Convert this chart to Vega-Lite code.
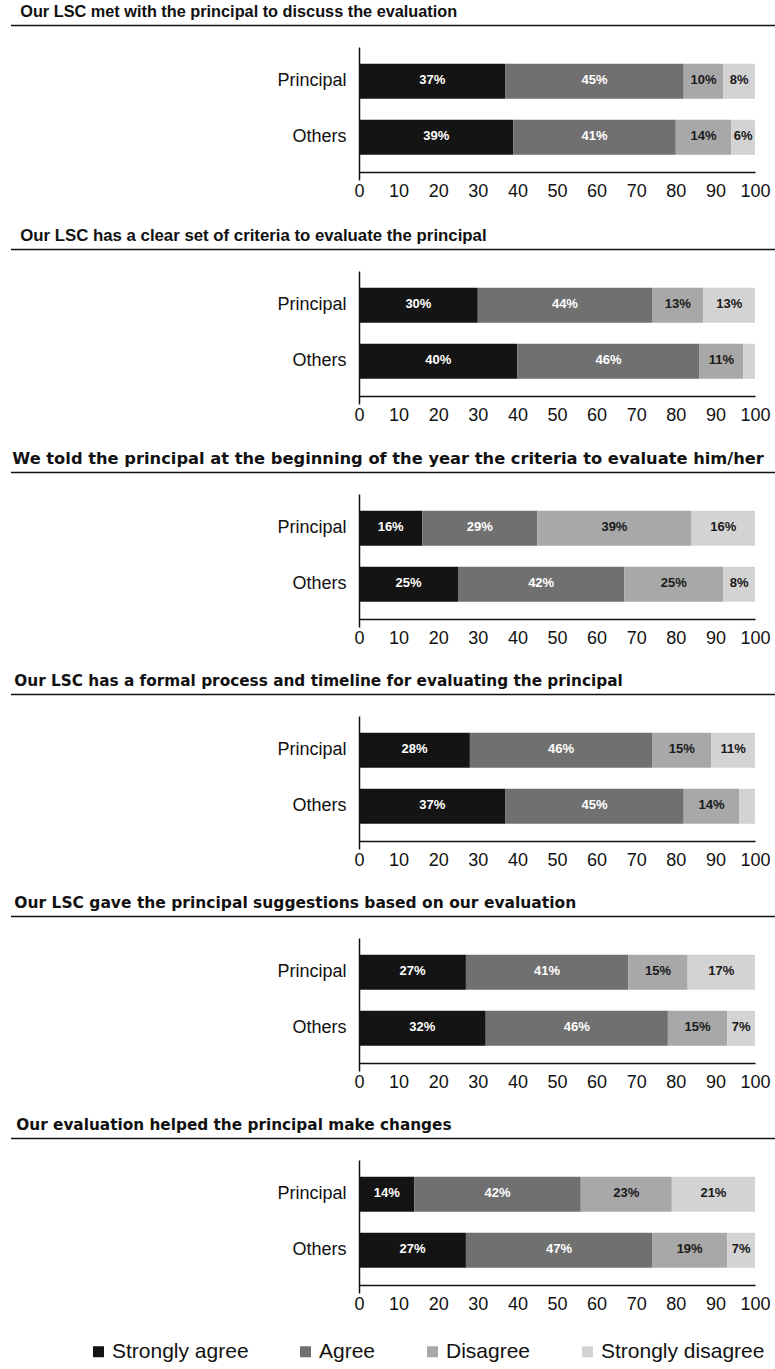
{
  "$schema": "https://vega.github.io/schema/vega-lite/v6.json",
  "background": "white",
  "padding": {"left": 10, "top": 4, "right": 0, "bottom": 0},
  "config": {
    "view": {"stroke": null},
    "font": "Liberation Sans",
    "axisY": {"title": null, "ticks": false, "domainColor": "#111", "domainWidth": 1.5, "labelFontSize": 18, "labelColor": "#111", "labelPadding": 13, "minExtent": 348, "maxExtent": 348, "labelFont": "Liberation Sans"},
    "axisX": {"title": null, "ticks": false, "grid": false, "domainColor": "#111", "domainWidth": 1.5, "labelFontSize": 18, "labelColor": "#111", "labelPadding": 10, "labelFont": "Liberation Sans", "labelFlush": false, "labelOverlap": false, "offset": -8}
  },
  "datasets": {
    "survey": [
      {"q": 1, "group": "Principal", "response": "Strongly agree", "code": 1, "value": 0.37},
      {"q": 1, "group": "Principal", "response": "Agree", "code": 2, "value": 0.45},
      {"q": 1, "group": "Principal", "response": "Disagree", "code": 3, "value": 0.10},
      {"q": 1, "group": "Principal", "response": "Strongly disagree", "code": 4, "value": 0.08},
      {"q": 1, "group": "Others", "response": "Strongly agree", "code": 1, "value": 0.39},
      {"q": 1, "group": "Others", "response": "Agree", "code": 2, "value": 0.41},
      {"q": 1, "group": "Others", "response": "Disagree", "code": 3, "value": 0.14},
      {"q": 1, "group": "Others", "response": "Strongly disagree", "code": 4, "value": 0.06},
      {"q": 2, "group": "Principal", "response": "Strongly agree", "code": 1, "value": 0.30},
      {"q": 2, "group": "Principal", "response": "Agree", "code": 2, "value": 0.44},
      {"q": 2, "group": "Principal", "response": "Disagree", "code": 3, "value": 0.13},
      {"q": 2, "group": "Principal", "response": "Strongly disagree", "code": 4, "value": 0.13},
      {"q": 2, "group": "Others", "response": "Strongly agree", "code": 1, "value": 0.40},
      {"q": 2, "group": "Others", "response": "Agree", "code": 2, "value": 0.46},
      {"q": 2, "group": "Others", "response": "Disagree", "code": 3, "value": 0.11},
      {"q": 2, "group": "Others", "response": "Strongly disagree", "code": 4, "value": 0.03},
      {"q": 3, "group": "Principal", "response": "Strongly agree", "code": 1, "value": 0.16},
      {"q": 3, "group": "Principal", "response": "Agree", "code": 2, "value": 0.29},
      {"q": 3, "group": "Principal", "response": "Disagree", "code": 3, "value": 0.39},
      {"q": 3, "group": "Principal", "response": "Strongly disagree", "code": 4, "value": 0.16},
      {"q": 3, "group": "Others", "response": "Strongly agree", "code": 1, "value": 0.25},
      {"q": 3, "group": "Others", "response": "Agree", "code": 2, "value": 0.42},
      {"q": 3, "group": "Others", "response": "Disagree", "code": 3, "value": 0.25},
      {"q": 3, "group": "Others", "response": "Strongly disagree", "code": 4, "value": 0.08},
      {"q": 4, "group": "Principal", "response": "Strongly agree", "code": 1, "value": 0.28},
      {"q": 4, "group": "Principal", "response": "Agree", "code": 2, "value": 0.46},
      {"q": 4, "group": "Principal", "response": "Disagree", "code": 3, "value": 0.15},
      {"q": 4, "group": "Principal", "response": "Strongly disagree", "code": 4, "value": 0.11},
      {"q": 4, "group": "Others", "response": "Strongly agree", "code": 1, "value": 0.37},
      {"q": 4, "group": "Others", "response": "Agree", "code": 2, "value": 0.45},
      {"q": 4, "group": "Others", "response": "Disagree", "code": 3, "value": 0.14},
      {"q": 4, "group": "Others", "response": "Strongly disagree", "code": 4, "value": 0.04},
      {"q": 5, "group": "Principal", "response": "Strongly agree", "code": 1, "value": 0.27},
      {"q": 5, "group": "Principal", "response": "Agree", "code": 2, "value": 0.41},
      {"q": 5, "group": "Principal", "response": "Disagree", "code": 3, "value": 0.15},
      {"q": 5, "group": "Principal", "response": "Strongly disagree", "code": 4, "value": 0.17},
      {"q": 5, "group": "Others", "response": "Strongly agree", "code": 1, "value": 0.32},
      {"q": 5, "group": "Others", "response": "Agree", "code": 2, "value": 0.46},
      {"q": 5, "group": "Others", "response": "Disagree", "code": 3, "value": 0.15},
      {"q": 5, "group": "Others", "response": "Strongly disagree", "code": 4, "value": 0.07},
      {"q": 6, "group": "Principal", "response": "Strongly agree", "code": 1, "value": 0.14},
      {"q": 6, "group": "Principal", "response": "Agree", "code": 2, "value": 0.42},
      {"q": 6, "group": "Principal", "response": "Disagree", "code": 3, "value": 0.23},
      {"q": 6, "group": "Principal", "response": "Strongly disagree", "code": 4, "value": 0.21},
      {"q": 6, "group": "Others", "response": "Strongly agree", "code": 1, "value": 0.27},
      {"q": 6, "group": "Others", "response": "Agree", "code": 2, "value": 0.47},
      {"q": 6, "group": "Others", "response": "Disagree", "code": 3, "value": 0.19},
      {"q": 6, "group": "Others", "response": "Strongly disagree", "code": 4, "value": 0.07}
    ]
  },
  "spacing": 27,
  "vconcat": [
    {
      "spacing": 20,
      "vconcat": [
        {
          "width": 396, "height": 1,
          "title": {"text": "Our LSC met with the principal to discuss the evaluation", "anchor": "start", "font": "Liberation Sans", "fontSize": 16.3, "fontWeight": "bold", "color": "#111", "offset": 4, "dx": 10},
          "data": {"name": "survey"},
          "transform": [{"filter": "datum.q === 1"}, {"aggregate": [{"op": "count", "as": "n"}]}],
          "mark": {"type": "rule", "color": "#111", "strokeWidth": 1.5},
          "encoding": {"x": {"datum": 0, "type": "quantitative", "scale": {"domain": [0, 1], "range": [-348, 417]}, "axis": null}, "x2": {"datum": 1}}
        },
        {
          "width": 396, "height": 133,
          "data": {"name": "survey"},
          "transform": [{"filter": "datum.q === 1"}],
          "encoding": {
            "y": {"field": "group", "type": "nominal", "sort": ["Principal", "Others"], "scale": {"paddingInner": 0.375, "paddingOuter": 0.375, "align": 0.4}},
            "x": {"field": "value", "type": "quantitative", "stack": "zero", "scale": {"domain": [0, 1], "nice": false}, "axis": {"values": [0, 0.1, 0.2, 0.3, 0.4, 0.5, 0.6, 0.7, 0.8, 0.9, 1], "labelExpr": "format(datum.value * 100, 'd')"}},
            "order": {"field": "code", "type": "quantitative"}
          },
          "layer": [
            {"mark": {"type": "bar"}, "encoding": {"color": {"field": "response", "type": "nominal", "scale": {"domain": ["Strongly agree", "Agree", "Disagree", "Strongly disagree"], "range": ["#141414", "#707070", "#a8a8a8", "#d3d3d3"]}, "legend": {"orient": "none", "legendX": -271, "legendY": 1316, "direction": "horizontal", "title": null, "symbolType": "square", "symbolSize": 121, "symbolStrokeWidth": 0, "labelFontSize": 21, "labelFont": "Liberation Sans", "labelColor": "#111", "labelLimit": 300, "columnPadding": 46, "labelOffset": 3, "padding": 0}}}},
            {"mark": {"type": "text", "font": "Liberation Sans", "fontWeight": "bold", "fontSize": 13, "baseline": "middle", "dy": -1},
             "encoding": {"x": {"field": "value", "type": "quantitative", "stack": "zero", "bandPosition": 0.5}, "detail": {"field": "response"}, "text": {"field": "value", "type": "quantitative", "format": ".0%", "condition": {"test": "datum.value < 0.05", "value": ""}}, "color": {"condition": {"test": "datum.code <= 2", "value": "white"}, "value": "#1a1a1a"}}}
          ]
        }
      ]
    },
    {
      "spacing": 20,
      "vconcat": [
        {
          "width": 396, "height": 1,
          "title": {"text": "Our LSC has a clear set of criteria to evaluate the principal", "anchor": "start", "font": "Liberation Sans", "fontSize": 16.8, "fontWeight": "bold", "color": "#111", "offset": 4, "dx": 10},
          "data": {"name": "survey"},
          "transform": [{"filter": "datum.q === 2"}, {"aggregate": [{"op": "count", "as": "n"}]}],
          "mark": {"type": "rule", "color": "#111", "strokeWidth": 1.5},
          "encoding": {"x": {"datum": 0, "type": "quantitative", "scale": {"domain": [0, 1], "range": [-348, 417]}, "axis": null}, "x2": {"datum": 1}}
        },
        {
          "width": 396, "height": 133,
          "data": {"name": "survey"},
          "transform": [{"filter": "datum.q === 2"}],
          "encoding": {
            "y": {"field": "group", "type": "nominal", "sort": ["Principal", "Others"], "scale": {"paddingInner": 0.375, "paddingOuter": 0.375, "align": 0.4}},
            "x": {"field": "value", "type": "quantitative", "stack": "zero", "scale": {"domain": [0, 1], "nice": false}, "axis": {"values": [0, 0.1, 0.2, 0.3, 0.4, 0.5, 0.6, 0.7, 0.8, 0.9, 1], "labelExpr": "format(datum.value * 100, 'd')"}},
            "order": {"field": "code", "type": "quantitative"}
          },
          "layer": [
            {"mark": {"type": "bar"}, "encoding": {"color": {"field": "response", "type": "nominal", "scale": {"domain": ["Strongly agree", "Agree", "Disagree", "Strongly disagree"], "range": ["#141414", "#707070", "#a8a8a8", "#d3d3d3"]}, "legend": {"orient": "none", "legendX": -271, "legendY": 1316, "direction": "horizontal", "title": null, "symbolType": "square", "symbolSize": 121, "symbolStrokeWidth": 0, "labelFontSize": 21, "labelFont": "Liberation Sans", "labelColor": "#111", "labelLimit": 300, "columnPadding": 46, "labelOffset": 3, "padding": 0}}}},
            {"mark": {"type": "text", "font": "Liberation Sans", "fontWeight": "bold", "fontSize": 13, "baseline": "middle", "dy": -1},
             "encoding": {"x": {"field": "value", "type": "quantitative", "stack": "zero", "bandPosition": 0.5}, "detail": {"field": "response"}, "text": {"field": "value", "type": "quantitative", "format": ".0%", "condition": {"test": "datum.value < 0.05", "value": ""}}, "color": {"condition": {"test": "datum.code <= 2", "value": "white"}, "value": "#1a1a1a"}}}
          ]
        }
      ]
    },
    {
      "spacing": 20,
      "vconcat": [
        {
          "width": 396, "height": 1,
          "title": {"text": "We told the principal at the beginning of the year the criteria to evaluate him/her", "anchor": "start", "font": "DejaVu Sans", "fontSize": 16.3, "fontWeight": "bold", "color": "#111", "offset": 4, "dx": 2},
          "data": {"name": "survey"},
          "transform": [{"filter": "datum.q === 3"}, {"aggregate": [{"op": "count", "as": "n"}]}],
          "mark": {"type": "rule", "color": "#111", "strokeWidth": 1.5},
          "encoding": {"x": {"datum": 0, "type": "quantitative", "scale": {"domain": [0, 1], "range": [-348, 417]}, "axis": null}, "x2": {"datum": 1}}
        },
        {
          "width": 396, "height": 133,
          "data": {"name": "survey"},
          "transform": [{"filter": "datum.q === 3"}],
          "encoding": {
            "y": {"field": "group", "type": "nominal", "sort": ["Principal", "Others"], "scale": {"paddingInner": 0.375, "paddingOuter": 0.375, "align": 0.4}},
            "x": {"field": "value", "type": "quantitative", "stack": "zero", "scale": {"domain": [0, 1], "nice": false}, "axis": {"values": [0, 0.1, 0.2, 0.3, 0.4, 0.5, 0.6, 0.7, 0.8, 0.9, 1], "labelExpr": "format(datum.value * 100, 'd')"}},
            "order": {"field": "code", "type": "quantitative"}
          },
          "layer": [
            {"mark": {"type": "bar"}, "encoding": {"color": {"field": "response", "type": "nominal", "scale": {"domain": ["Strongly agree", "Agree", "Disagree", "Strongly disagree"], "range": ["#141414", "#707070", "#a8a8a8", "#d3d3d3"]}, "legend": {"orient": "none", "legendX": -271, "legendY": 1316, "direction": "horizontal", "title": null, "symbolType": "square", "symbolSize": 121, "symbolStrokeWidth": 0, "labelFontSize": 21, "labelFont": "Liberation Sans", "labelColor": "#111", "labelLimit": 300, "columnPadding": 46, "labelOffset": 3, "padding": 0}}}},
            {"mark": {"type": "text", "font": "Liberation Sans", "fontWeight": "bold", "fontSize": 13, "baseline": "middle", "dy": -1},
             "encoding": {"x": {"field": "value", "type": "quantitative", "stack": "zero", "bandPosition": 0.5}, "detail": {"field": "response"}, "text": {"field": "value", "type": "quantitative", "format": ".0%", "condition": {"test": "datum.value < 0.05", "value": ""}}, "color": {"condition": {"test": "datum.code <= 2", "value": "white"}, "value": "#1a1a1a"}}}
          ]
        }
      ]
    },
    {
      "spacing": 20,
      "vconcat": [
        {
          "width": 396, "height": 1,
          "title": {"text": "Our LSC has a formal process and timeline for evaluating the principal", "anchor": "start", "font": "DejaVu Sans", "fontSize": 15.3, "fontWeight": "bold", "color": "#111", "offset": 4, "dx": 4},
          "data": {"name": "survey"},
          "transform": [{"filter": "datum.q === 4"}, {"aggregate": [{"op": "count", "as": "n"}]}],
          "mark": {"type": "rule", "color": "#111", "strokeWidth": 1.5},
          "encoding": {"x": {"datum": 0, "type": "quantitative", "scale": {"domain": [0, 1], "range": [-348, 417]}, "axis": null}, "x2": {"datum": 1}}
        },
        {
          "width": 396, "height": 133,
          "data": {"name": "survey"},
          "transform": [{"filter": "datum.q === 4"}],
          "encoding": {
            "y": {"field": "group", "type": "nominal", "sort": ["Principal", "Others"], "scale": {"paddingInner": 0.375, "paddingOuter": 0.375, "align": 0.4}},
            "x": {"field": "value", "type": "quantitative", "stack": "zero", "scale": {"domain": [0, 1], "nice": false}, "axis": {"values": [0, 0.1, 0.2, 0.3, 0.4, 0.5, 0.6, 0.7, 0.8, 0.9, 1], "labelExpr": "format(datum.value * 100, 'd')"}},
            "order": {"field": "code", "type": "quantitative"}
          },
          "layer": [
            {"mark": {"type": "bar"}, "encoding": {"color": {"field": "response", "type": "nominal", "scale": {"domain": ["Strongly agree", "Agree", "Disagree", "Strongly disagree"], "range": ["#141414", "#707070", "#a8a8a8", "#d3d3d3"]}, "legend": {"orient": "none", "legendX": -271, "legendY": 1316, "direction": "horizontal", "title": null, "symbolType": "square", "symbolSize": 121, "symbolStrokeWidth": 0, "labelFontSize": 21, "labelFont": "Liberation Sans", "labelColor": "#111", "labelLimit": 300, "columnPadding": 46, "labelOffset": 3, "padding": 0}}}},
            {"mark": {"type": "text", "font": "Liberation Sans", "fontWeight": "bold", "fontSize": 13, "baseline": "middle", "dy": -1},
             "encoding": {"x": {"field": "value", "type": "quantitative", "stack": "zero", "bandPosition": 0.5}, "detail": {"field": "response"}, "text": {"field": "value", "type": "quantitative", "format": ".0%", "condition": {"test": "datum.value < 0.05", "value": ""}}, "color": {"condition": {"test": "datum.code <= 2", "value": "white"}, "value": "#1a1a1a"}}}
          ]
        }
      ]
    },
    {
      "spacing": 20,
      "vconcat": [
        {
          "width": 396, "height": 1,
          "title": {"text": "Our LSC gave the principal suggestions based on our evaluation", "anchor": "start", "font": "DejaVu Sans", "fontSize": 15.5, "fontWeight": "bold", "color": "#111", "offset": 4, "dx": 4},
          "data": {"name": "survey"},
          "transform": [{"filter": "datum.q === 5"}, {"aggregate": [{"op": "count", "as": "n"}]}],
          "mark": {"type": "rule", "color": "#111", "strokeWidth": 1.5},
          "encoding": {"x": {"datum": 0, "type": "quantitative", "scale": {"domain": [0, 1], "range": [-348, 417]}, "axis": null}, "x2": {"datum": 1}}
        },
        {
          "width": 396, "height": 133,
          "data": {"name": "survey"},
          "transform": [{"filter": "datum.q === 5"}],
          "encoding": {
            "y": {"field": "group", "type": "nominal", "sort": ["Principal", "Others"], "scale": {"paddingInner": 0.375, "paddingOuter": 0.375, "align": 0.4}},
            "x": {"field": "value", "type": "quantitative", "stack": "zero", "scale": {"domain": [0, 1], "nice": false}, "axis": {"values": [0, 0.1, 0.2, 0.3, 0.4, 0.5, 0.6, 0.7, 0.8, 0.9, 1], "labelExpr": "format(datum.value * 100, 'd')"}},
            "order": {"field": "code", "type": "quantitative"}
          },
          "layer": [
            {"mark": {"type": "bar"}, "encoding": {"color": {"field": "response", "type": "nominal", "scale": {"domain": ["Strongly agree", "Agree", "Disagree", "Strongly disagree"], "range": ["#141414", "#707070", "#a8a8a8", "#d3d3d3"]}, "legend": {"orient": "none", "legendX": -271, "legendY": 1316, "direction": "horizontal", "title": null, "symbolType": "square", "symbolSize": 121, "symbolStrokeWidth": 0, "labelFontSize": 21, "labelFont": "Liberation Sans", "labelColor": "#111", "labelLimit": 300, "columnPadding": 46, "labelOffset": 3, "padding": 0}}}},
            {"mark": {"type": "text", "font": "Liberation Sans", "fontWeight": "bold", "fontSize": 13, "baseline": "middle", "dy": -1},
             "encoding": {"x": {"field": "value", "type": "quantitative", "stack": "zero", "bandPosition": 0.5}, "detail": {"field": "response"}, "text": {"field": "value", "type": "quantitative", "format": ".0%", "condition": {"test": "datum.value < 0.05", "value": ""}}, "color": {"condition": {"test": "datum.code <= 2", "value": "white"}, "value": "#1a1a1a"}}}
          ]
        }
      ]
    },
    {
      "spacing": 20,
      "vconcat": [
        {
          "width": 396, "height": 1,
          "title": {"text": "Our evaluation helped the principal make changes", "anchor": "start", "font": "DejaVu Sans", "fontSize": 15.3, "fontWeight": "bold", "color": "#111", "offset": 4, "dx": 6},
          "data": {"name": "survey"},
          "transform": [{"filter": "datum.q === 6"}, {"aggregate": [{"op": "count", "as": "n"}]}],
          "mark": {"type": "rule", "color": "#111", "strokeWidth": 1.5},
          "encoding": {"x": {"datum": 0, "type": "quantitative", "scale": {"domain": [0, 1], "range": [-348, 417]}, "axis": null}, "x2": {"datum": 1}}
        },
        {
          "width": 396, "height": 133,
          "data": {"name": "survey"},
          "transform": [{"filter": "datum.q === 6"}],
          "encoding": {
            "y": {"field": "group", "type": "nominal", "sort": ["Principal", "Others"], "scale": {"paddingInner": 0.375, "paddingOuter": 0.375, "align": 0.4}},
            "x": {"field": "value", "type": "quantitative", "stack": "zero", "scale": {"domain": [0, 1], "nice": false}, "axis": {"values": [0, 0.1, 0.2, 0.3, 0.4, 0.5, 0.6, 0.7, 0.8, 0.9, 1], "labelExpr": "format(datum.value * 100, 'd')"}},
            "order": {"field": "code", "type": "quantitative"}
          },
          "layer": [
            {"mark": {"type": "bar"}, "encoding": {"color": {"field": "response", "type": "nominal", "scale": {"domain": ["Strongly agree", "Agree", "Disagree", "Strongly disagree"], "range": ["#141414", "#707070", "#a8a8a8", "#d3d3d3"]}, "legend": {"orient": "none", "legendX": -271, "legendY": 1316, "direction": "horizontal", "title": null, "symbolType": "square", "symbolSize": 121, "symbolStrokeWidth": 0, "labelFontSize": 21, "labelFont": "Liberation Sans", "labelColor": "#111", "labelLimit": 300, "columnPadding": 46, "labelOffset": 3, "padding": 0}}}},
            {"mark": {"type": "text", "font": "Liberation Sans", "fontWeight": "bold", "fontSize": 13, "baseline": "middle", "dy": -1},
             "encoding": {"x": {"field": "value", "type": "quantitative", "stack": "zero", "bandPosition": 0.5}, "detail": {"field": "response"}, "text": {"field": "value", "type": "quantitative", "format": ".0%", "condition": {"test": "datum.value < 0.05", "value": ""}}, "color": {"condition": {"test": "datum.code <= 2", "value": "white"}, "value": "#1a1a1a"}}}
          ]
        }
      ]
    }
  ]
}
